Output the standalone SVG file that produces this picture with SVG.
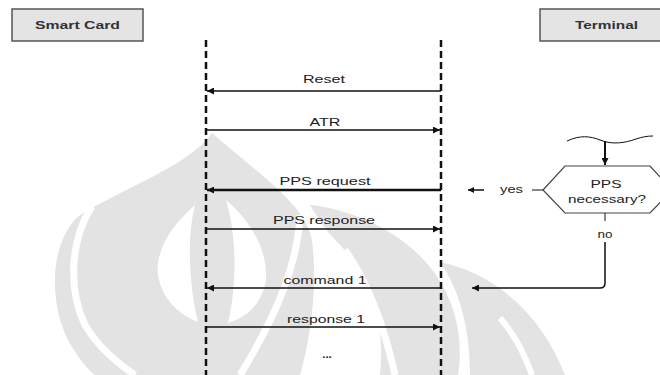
<svg xmlns="http://www.w3.org/2000/svg" width="660" height="375" viewBox="0 0 660 375">
<defs>
<style>
.box{fill:#e4e4e4;stroke:#555;stroke-width:1.5}
.hdr{font-family:"Liberation Sans",Arial,sans-serif;font-weight:bold;font-size:11.5px;fill:#333}
.lbl{font-family:"Liberation Sans",Arial,sans-serif;font-size:11.5px;fill:#222}
.life{stroke:#111;stroke-width:2.5;stroke-dasharray:7 4;fill:none}
.msg{stroke:#111;stroke-width:1.5;fill:none}
.wm{fill:#e3e3e3}
.wmc{fill:#fff}
.wmb{fill:none;stroke:#fff;stroke-width:7}
</style>
<marker id="ah" viewBox="0 0 10 10" refX="10" refY="5" markerWidth="9" markerHeight="7" markerUnits="userSpaceOnUse" orient="auto">
<path d="M0,0 L10,5 L0,10 Z" fill="#111"/>
</marker>
<marker id="ahs" viewBox="0 0 10 10" refX="10" refY="5" markerWidth="8" markerHeight="6" markerUnits="userSpaceOnUse" orient="auto">
<path d="M0,0 L10,5 L0,10 Z" fill="#111"/>
</marker>
</defs>
<rect width="660" height="375" fill="#fff"/>
<g id="watermark">
<path class="wm" d="M212,133 C190,165 120,190 80,215 C50,240 48,300 68,340 C78,358 88,370 95,375 L300,375 C310,340 318,290 312,240 C306,205 260,175 212,133 Z"/>
<path class="wmb" d="M92,206 C70,240 68,290 85,325 C100,350 120,365 135,375"/>
<path class="wmc" d="M195,205 C172,225 155,250 158,275 C162,300 180,315 198,322 C190,290 186,240 195,205 Z"/>
<path class="wmc" d="M226,200 C250,220 268,250 266,280 C262,305 245,318 228,323 C236,290 238,240 226,200 Z"/>
<path class="wmb" d="M300,215 C298,260 280,310 240,375"/>
<path class="wm" d="M310,205 C360,210 420,240 445,290 C460,320 462,350 458,375 L380,375 C385,330 375,280 340,245 C330,235 320,222 310,205 Z"/>
<path class="wmb" d="M345,250 C370,285 385,330 395,375"/>
<path class="wm" d="M440,262 C490,272 540,310 565,375 L470,375 C470,330 460,290 440,262 Z"/>
<path class="wmb" d="M500,318 C515,335 525,355 532,375" style="stroke-width:6"/>
</g>
<g id="smart-card">
<rect class="box" x="12" y="9" width="131" height="32"/>
<text class="hdr" x="77.5" y="28.5" text-anchor="middle" textLength="85" lengthAdjust="spacingAndGlyphs">Smart Card</text>
</g>
<g id="terminal">
<rect class="box" x="540" y="9" width="130" height="32"/>
<text class="hdr" x="606.5" y="29" text-anchor="middle" textLength="63" lengthAdjust="spacingAndGlyphs">Terminal</text>
</g>
<g id="lifelines">
<line class="life" x1="206" y1="40" x2="206" y2="375"/>
<line class="life" x1="441" y1="40" x2="441" y2="375"/>
</g>
<g id="connectors">
<line class="msg" x1="441" y1="91" x2="207" y2="91" marker-end="url(#ah)"/>
<line class="msg" x1="206" y1="130" x2="440" y2="130" marker-end="url(#ah)"/>
<line class="msg" x1="441" y1="190" x2="207" y2="190" marker-end="url(#ah)" style="stroke-width:2.5"/>
<line class="msg" x1="206" y1="229" x2="440" y2="229" marker-end="url(#ah)"/>
<line class="msg" x1="441" y1="288" x2="207" y2="288" marker-end="url(#ah)"/>
<line class="msg" x1="206" y1="327" x2="440" y2="327" marker-end="url(#ah)"/>
<path class="msg" d="M567,141 C580,135 590,136 600,140 C612,145 625,143 636,139 C642,137 647,136 653,136" style="stroke-width:1"/>
<line class="msg" x1="605" y1="141" x2="605" y2="165" marker-end="url(#ah)" style="stroke-width:2"/>
<line class="msg" x1="543" y1="190" x2="532" y2="190" style="stroke-width:1"/>
<line class="msg" x1="484" y1="190" x2="468" y2="190" marker-end="url(#ahs)" style="stroke-width:1.5"/>
<line class="msg" x1="605" y1="213" x2="605" y2="221" style="stroke-width:1"/>
<path class="msg" d="M605,242 L605,283 Q605,288 600,288 L472,288" marker-end="url(#ah)"/>
</g>
<g id="labels">
<text class="lbl" x="324" y="83" text-anchor="middle" textLength="42" lengthAdjust="spacingAndGlyphs">Reset</text>
<text class="lbl" x="325" y="126" text-anchor="middle" textLength="31" lengthAdjust="spacingAndGlyphs">ATR</text>
<text class="lbl" x="325" y="185" text-anchor="middle" textLength="91" lengthAdjust="spacingAndGlyphs">PPS request</text>
<text class="lbl" x="324" y="224" text-anchor="middle" textLength="102" lengthAdjust="spacingAndGlyphs">PPS response</text>
<text class="lbl" x="325" y="284" text-anchor="middle" textLength="83" lengthAdjust="spacingAndGlyphs">command 1</text>
<text class="lbl" x="326" y="322.5" text-anchor="middle" textLength="78" lengthAdjust="spacingAndGlyphs">response 1</text>
<text class="lbl" x="327" y="358" text-anchor="middle" style="font-weight:bold">...</text>
<text class="lbl" x="511.5" y="193" text-anchor="middle" textLength="23" lengthAdjust="spacingAndGlyphs">yes</text>
<text class="lbl" x="605" y="238" text-anchor="middle" textLength="15" lengthAdjust="spacingAndGlyphs">no</text>
</g>
<g id="decision">
<polygon points="543,190 565,166 650,166 672,190 650,213 565,213" fill="#fff" stroke="#444" stroke-width="1.2"/>
<text class="lbl" x="606" y="188" text-anchor="middle" textLength="31" lengthAdjust="spacingAndGlyphs">PPS</text>
<text class="lbl" x="607" y="203" text-anchor="middle" textLength="78" lengthAdjust="spacingAndGlyphs">necessary?</text>
</g>
</svg>
